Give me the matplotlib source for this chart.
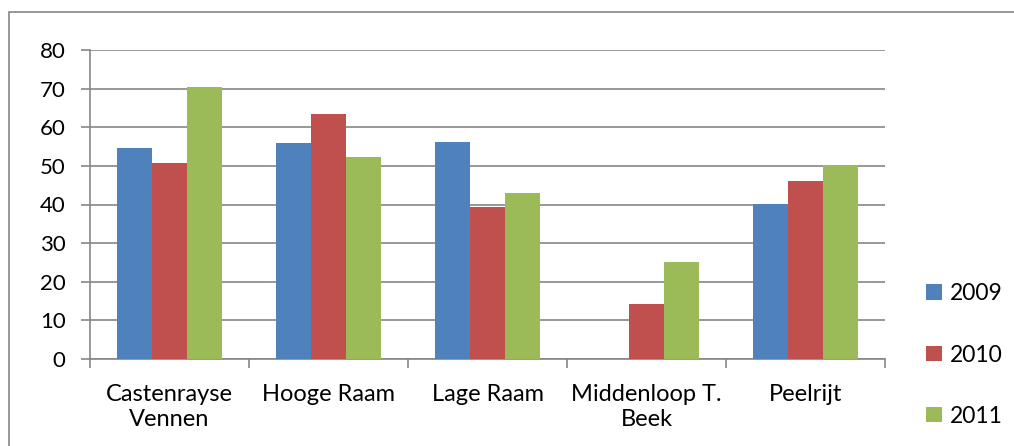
import numpy as np
import matplotlib.pyplot as plt
from matplotlib.patches import Rectangle

categories = ["Castenrayse\nVennen", "Hooge Raam", "Lage Raam", "Middenloop T.\nBeek", "Peelrijt"]
years = ["2009", "2010", "2011"]
v2009 = [54.6, 55.9, 56.3, 0, 40.2]
v2010 = [50.7, 63.5, 39.3, 14.2, 46.0]
v2011 = [70.4, 52.3, 42.9, 25.1, 50.3]
colors = ["#4F81BD", "#C0504D", "#9BBB59"]

plt.rcParams['font.family'] = ['Lato', 'DejaVu Sans']

fig = plt.figure(figsize=(10.14, 4.46), dpi=100)
ax = fig.add_axes([90 / 1014, 1 - 359 / 446, (885 - 90) / 1014, (359 - 50) / 446])

# outer chart frame
fig.patches.append(Rectangle((9 / 1014, -0.05), 1.1, 1 - 12 / 446 + 0.05, transform=fig.transFigure,
                             fill=False, edgecolor="#868686", linewidth=1.2))

x = np.arange(len(categories))
w = 0.221
for i, (vals, c, lab) in enumerate(zip([v2009, v2010, v2011], colors, years)):
    ax.bar(x + (i - 1) * w, vals, w, color=c, label=lab, zorder=3)

ax.set_xlim(-0.5, len(categories) - 0.5)
ax.set_ylim(0, 80)
ax.set_yticks(range(0, 81, 10))
ax.yaxis.grid(True, color="#868686", linewidth=1.2, zorder=0)
for s in ["top", "right"]:
    ax.spines[s].set_visible(False)
ax.spines["left"].set_color("#868686")
ax.spines["bottom"].set_color("#868686")
ax.spines["left"].set_linewidth(1.2)
ax.spines["bottom"].set_linewidth(1.2)

ax.set_xticks(np.arange(-0.5, len(categories), 1))
ax.set_xticklabels([])
ax.set_xticks(x, minor=True)
ax.set_xticklabels(categories, minor=True, fontsize=17, linespacing=1.25)
ax.tick_params(axis="x", which="major", length=6.5, color="#868686", width=1.2)
ax.tick_params(axis="x", which="minor", length=0, pad=18)
ax.tick_params(axis="y", length=6.5, color="#868686", width=1.2, labelsize=16, pad=11)

ax.legend(loc="center left", bbox_to_anchor=(915 / 1014, 1 - 355 / 446), bbox_transform=fig.transFigure,
          frameon=False, fontsize=16.5, handlelength=0.68, handleheight=0.68, handletextpad=0.35,
          labelspacing=1.75, borderpad=0)

fig.savefig("out.png", dpi=100)
